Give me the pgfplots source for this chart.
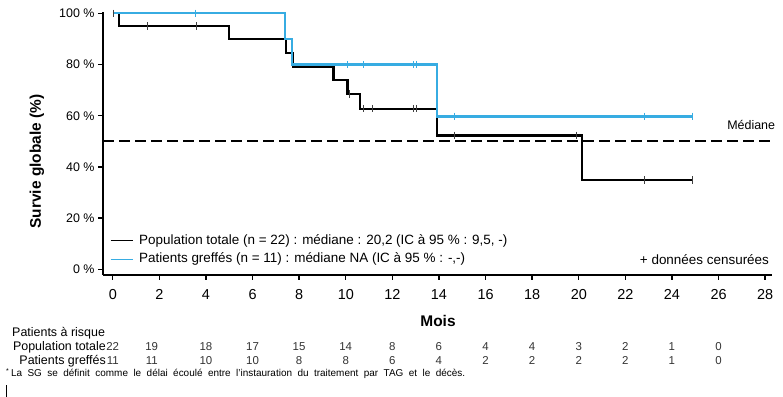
\documentclass[border=0pt]{standalone}
\usepackage{fontspec}
\setmainfont{Liberation Sans}
\usepackage{pgfplots}
\pgfplotsset{compat=1.18}
\definecolor{kmblue}{RGB}{55,172,226}
\newcommand\fs[1]{\fontsize{#1}{#1}\selectfont}
\begin{document}
\begin{tikzpicture}
\useasboundingbox (0,0) rectangle (783bp,397bp);
\begin{axis}[
  at={(103bp,122bp)}, anchor=south west,
  scale only axis, width=668.7bp, height=262.9bp,
  xmin=-0.42, xmax=28.28, ymin=-2.2, ymax=100.5,
  axis lines=left,
  axis line style={-, line width=1.7bp, black},
  tick align=outside,
  major tick length=5bp,
  tick style={black, line width=1.4bp},
  xtick={0,2,...,28},
  ytick={0,20,40,60,80,100},
  yticklabels={0 \%,20 \%,40 \%,60 \%,80 \%,100 \%},
  /pgf/number format/assume math mode=true,
  xticklabel style={font=\fs{14.5}, yshift=-6bp},
  yticklabel style={font=\fs{12.5}},
  clip=false,
  legend image code/.code={\draw[#1,line width=1.2bp] (0bp,0bp) -- (22bp,0bp);},
  legend style={draw=none, fill=none, inner sep=0pt, outer sep=0pt,
    at={(axis cs:-0.12,13.9)}, anchor=north west, font=\fs{13.5},
    row sep=4.5bp, nodes={inner sep=1bp, text depth=2.5bp, text height=9.5bp},
    /tikz/every odd column/.append style={column sep=5bp}},
  legend cell align=left,
]
% median reference line
\addplot[forget plot, black, line width=1.8bp, dash pattern=on 11bp off 5bp]
  coordinates {(-0.42,50) (28.28,50)};
% Population totale
\addplot[const plot, black, line width=2.2bp] coordinates {
  (0,100) (0.25,95) (5.0,90) (7.45,84.5) (7.72,79.2) (9.47,74) (10.07,68.5)
  (10.6,62.8) (13.93,52.3) (20.15,34.8) (24.9,34.8)};
\addlegendentry{Population totale (n = 22) : médiane : 20,2 (IC à 95 \% : 9,5, -)}
% Patients greffes
\addplot[const plot, kmblue, line width=2.2bp] coordinates {
  (0,100) (7.4,90) (7.7,80) (13.9,59.7) (24.9,59.7)};
\addlegendentry{Patients greffés (n = 11) : médiane NA (IC à 95 \% : -,-)}
% censored marks
\addplot[forget plot, only marks, mark=|, mark size=3.8bp, black!75, line width=1bp]
  coordinates {(0.05,100) (1.5,95) (3.6,95) (10.15,68.5) (10.75,62.8) (11.15,62.8)
  (12.9,62.8) (13.05,62.8) (14.65,52.3) (19.9,52.3) (22.8,34.8) (24.9,34.8)};
\addplot[forget plot, only marks, mark=|, mark size=3.8bp, kmblue, line width=1bp]
  coordinates {(3.57,100) (10.07,80) (10.75,80) (12.9,80) (13.05,80)
  (14.65,59.7) (22.8,59.7) (24.9,59.7)};
\node[font=\fs{12.5}, anchor=mid] at (axis cs:27.4,55.7) {Médiane};
\node[font=\fs{13.5}, anchor=mid east, inner sep=0pt] at (axis cs:28.17,2.8) {+ données censurées};
\end{axis}
% axis labels
\node[font=\fs{15.5}\bfseries, rotate=90] at (37bp,235.5bp) {Survie globale (\%)};
\node[font=\fs{15.5}\bfseries] at (438bp,76.3bp) {Mois};
% risk table
\node[font=\fs{12.5}, anchor=mid west, inner sep=0pt] at (12bp,63bp) {Patients à risque};
\node[font=\fs{12.5}, anchor=mid east, inner sep=0pt] at (106bp,49.3bp) {Population totale};
\node[font=\fs{12.5}, anchor=mid east, inner sep=0pt] at (106bp,35.3bp) {Patients greffés};
\foreach \xx/\n in {112.7/22,151.7/19,205.9/18,252.5/17,299.1/15,345.7/14,392.3/8,438.9/6,485.5/4,532.1/4,578.7/3,625.3/2,671.9/1,718.5/0}
  \node[font=\fs{11.5}, text=black!80, anchor=mid, inner sep=0pt] at (\xx bp,49.3bp) {\n};
\foreach \xx/\n in {112.7/11,151.7/11,205.9/10,252.5/10,299.1/8,345.7/8,392.3/6,438.9/4,485.5/2,532.1/2,578.7/2,625.3/2,671.9/1,718.5/0}
  \node[font=\fs{11.5}, text=black!80, anchor=mid, inner sep=0pt] at (\xx bp,35.3bp) {\n};
% footnote
\node[font=\fs{10}, anchor=mid west, inner sep=0pt] at (6bp,22.7bp)
  {\makebox[459bp][s]{\textsuperscript{*}\,La SG se définit comme le délai écoulé entre l'instauration du traitement par TAG et le décès.}};
\draw[black, line width=0.8bp] (6.7bp,0bp) -- (6.7bp,12bp);
\end{tikzpicture}
\end{document}
